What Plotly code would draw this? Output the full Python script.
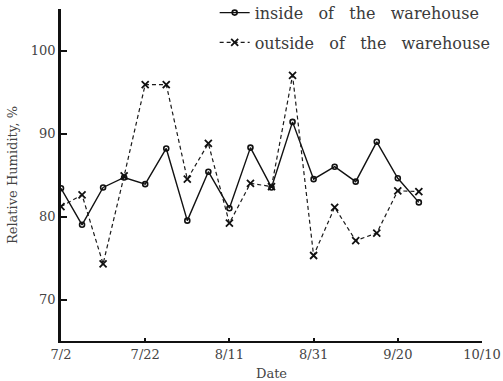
import pandas as pd
import plotly.graph_objects as go

# Sampling dates (every five days) and relative humidity readings, %
dates = ["7/2", "7/7", "7/12", "7/17", "7/22", "7/27", "8/1", "8/6", "8/11",
         "8/16", "8/21", "8/26", "8/31", "9/5", "9/10", "9/15", "9/20", "9/25"]
inside_rh = [83.4, 79.0, 83.5, 84.7, 83.9, 88.2, 79.5, 85.4, 81.0,
             88.3, 83.5, 91.4, 84.5, 86.0, 84.2, 89.0, 84.6, 81.7]
outside_rh = [81.2, 82.6, 74.3, 84.9, 95.9, 95.9, 84.5, 88.8, 79.2,
              84.0, 83.6, 97.0, 75.3, 81.1, 77.1, 78.0, 83.1, 83.0]

tick_labels = ["7/2", "7/22", "8/11", "8/31", "9/20", "10/10"]
y_ticks = [70, 80, 90, 100]

series_names = ["inside of the warehouse", "outside of the warehouse"]

YEAR = 2001


def to_date(s):
    m, d = s.split("/")
    return pd.Timestamp(year=YEAR, month=int(m), day=int(d))


def spaced(label):
    # widen the gaps between words in the legend
    return "\u00a0\u00a0\u00a0".join(label.split(" "))


x = [to_date(s) for s in dates]
tick_vals = [to_date(s) for s in tick_labels]

FONT = "DejaVu Serif"

fig = go.Figure()
fig.add_trace(go.Scatter(
    x=x, y=inside_rh, mode="lines+markers",
    name=spaced(series_names[0]), legendgroup="a",
    line=dict(color="#111111", width=1.4),
    marker=dict(symbol="circle-open", size=5, color="#111111",
                line=dict(width=1.6)),
))
fig.add_trace(go.Scatter(
    x=x, y=outside_rh, mode="lines+markers",
    name=spaced(series_names[1]), legendgroup="b",
    line=dict(color="#1a1a1a", width=1.2, dash="4px,3px"),
    marker=dict(symbol="x-thin-open", size=7, color="#111111",
                line=dict(width=1.8, color="#111111")),
))

fig.update_layout(
    width=503, height=381,
    margin=dict(l=61, r=21, t=9, b=40, autoexpand=False),
    paper_bgcolor="white", plot_bgcolor="white",
    font=dict(family=FONT, color="#333333", size=13),
    showlegend=True,
    legend=dict(
        x=0.365, y=1.04, xanchor="left", yanchor="top",
        bgcolor="rgba(0,0,0,0)", font=dict(size=16, color="#3a3a3a"),
        tracegroupgap=6, itemwidth=30,
    ),
    xaxis=dict(
        range=[to_date("7/2"), to_date("10/10")],
        tickvals=tick_vals, ticktext=tick_labels,
        showgrid=False, zeroline=False,
        showline=True, linecolor="#111111", linewidth=2,
        ticks="inside", ticklen=3, tickcolor="#111111", tickwidth=1.5,
        tickfont=dict(size=13, color="#444444"),
        title=dict(text="Date", font=dict(size=13, color="#444444"), standoff=12),
    ),
    yaxis=dict(
        range=[65, 105],
        tickvals=y_ticks,
        showgrid=False, zeroline=False,
        showline=True, linecolor="#111111", linewidth=2.5,
        ticks="inside", ticklen=6, tickcolor="#111111", tickwidth=1.5,
        tickfont=dict(size=13, color="#444444"),
        title=dict(text="Relative Humidity, %", font=dict(size=13, color="#444444"),
                   standoff=11),
    ),
)

fig.write_html("out.html")
